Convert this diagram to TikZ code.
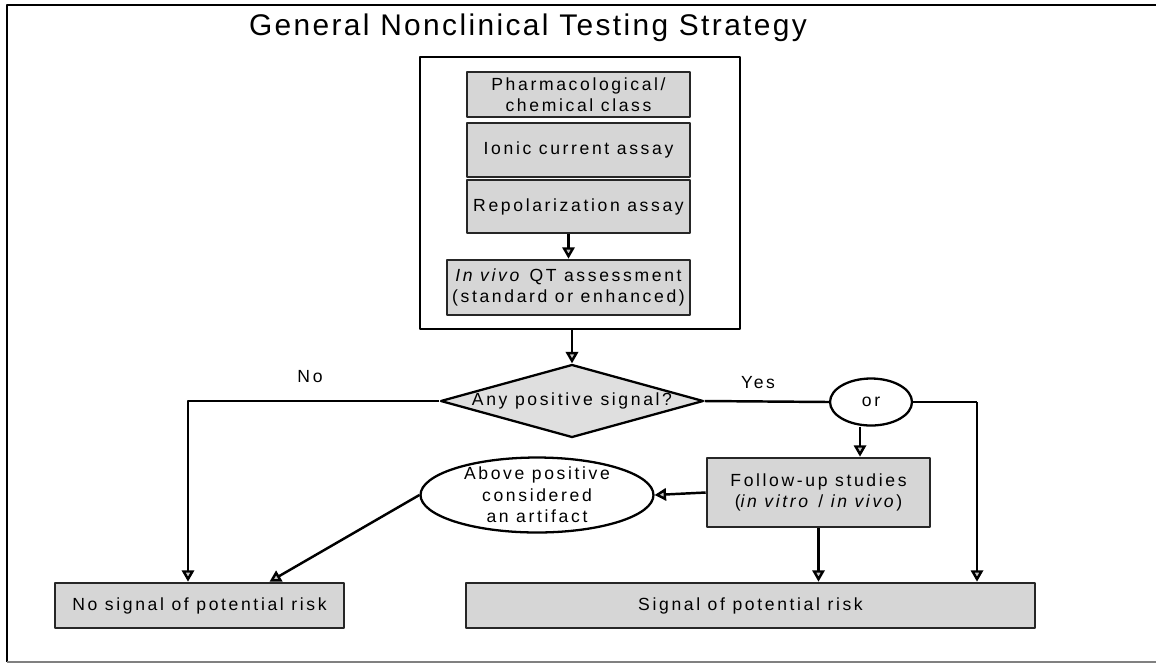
\documentclass[tikz,border=0pt]{standalone}
\usepackage{fontspec}
\setmainfont{Liberation Sans}
\newfontfamily\spacedfont{Liberation Sans}[LetterSpace=15]
\newfontfamily\titlefont{Liberation Sans}[LetterSpace=8]
\usetikzlibrary{shapes.geometric,arrows.meta,calc}

\begin{document}
\begin{tikzpicture}[x=0.02cm,y=-0.02cm,line join=round,>={Triangle[length=6.5pt,width=7pt,fill=gray!45]},line width=1.4pt]
	\tikzset{every node/.style={font=\spacedfont\fontsize{10}{12.2}\selectfont,align=center},
		graybox/.style={draw=black!85,line width=1.5pt,fill=gray!32,inner sep=0pt},
		oval/.style={ellipse,draw,line width=1.3pt,fill=white,inner sep=0pt},
		ask/.style={diamond,draw,line width=1.3pt,fill=gray!25,inner sep=0pt}}
	\useasboundingbox (0,0) rectangle (1156,664);
	% frame
	\draw[line width=0.9pt] (7,662)--(7,5)--(1156,5);
	\draw[gray,line width=0.9pt] (7,662)--(1156,662);
	\node[font=\titlefont\fontsize{17}{20}\selectfont] (title) at (528,28) {General Nonclinical Testing Strategy};
	% testing block
	\node[draw,line width=1.4pt,minimum width=6.4cm,minimum height=5.44cm] (block) at (580,193) {};
	\node[graybox,minimum width=4.46cm,minimum height=0.9cm] (pharm) at (578.5,94.5) {Pharmacological/\\chemical class};
	\node[graybox,minimum width=4.46cm,minimum height=1.08cm] (ionic) at (578.5,150) {Ionic current assay};
	\node[graybox,minimum width=4.46cm,minimum height=1.06cm] (repol) at (578.5,206.5) {Repolarization assay};
	\node[graybox,minimum width=4.86cm,minimum height=1.1cm] (qt) at (568.5,287.5) {\textit{In vivo} QT assessment\\(standard or enhanced)};
	% decision
	\node[ask,aspect=3.6,minimum width=5.26cm,minimum height=1.46cm] (signal) at (572,401) {Any positive signal?};
	\node (no) at (310,377) {No};
	\node (yes) at (758,383) {Yes};
	\node[oval,minimum width=1.64cm,minimum height=0.94cm] (or) at (871,402) {or};
	\node[graybox,minimum width=4.46cm,minimum height=1.38cm] (follow) at (818.5,492.5) {Follow-up studies\\(\textit{in vitro} / \textit{in vivo})};
	\node[oval,inner ysep=-2pt,minimum width=4.66cm,minimum height=1.5cm] (artifact) at (537,495) {Above positive\\considered\\an artifact};
	% outcomes
	\node[graybox,minimum width=5.78cm,minimum height=0.9cm] (nosig) at (199.5,605.5) {No signal of potential risk};
	\node[graybox,minimum width=11.38cm,minimum height=0.9cm] (risk) at (750.5,605.5) {Signal of potential risk};
	% connectors
	\draw[->] (repol.south -| qt.north) -- (qt.north);
	\draw[->] (block.south -| signal.north) -- (signal.north);
	\coordinate (nobend) at (188,401);
	\draw[->] (signal.west) -- (nobend) -- (nobend |- nosig.north);
	\draw (signal.east) -- (or.west);
	\draw[->] ($(or.south)+(-11,0)$) -- ($(or.south |- follow.north)+(-11,0)$);
	\draw[->] (follow.west) -- (artifact.east);
	\draw[->] (artifact.west) -- ($(nosig.north west)!0.74!(nosig.north east)$);
	\coordinate (orbend) at (977,402);
	\draw (or.east) -- (orbend);
	\foreach \src in {follow.south,orbend}
	\draw[->] (\src) -- (\src |- risk.north);
\end{tikzpicture}
\end{document}
